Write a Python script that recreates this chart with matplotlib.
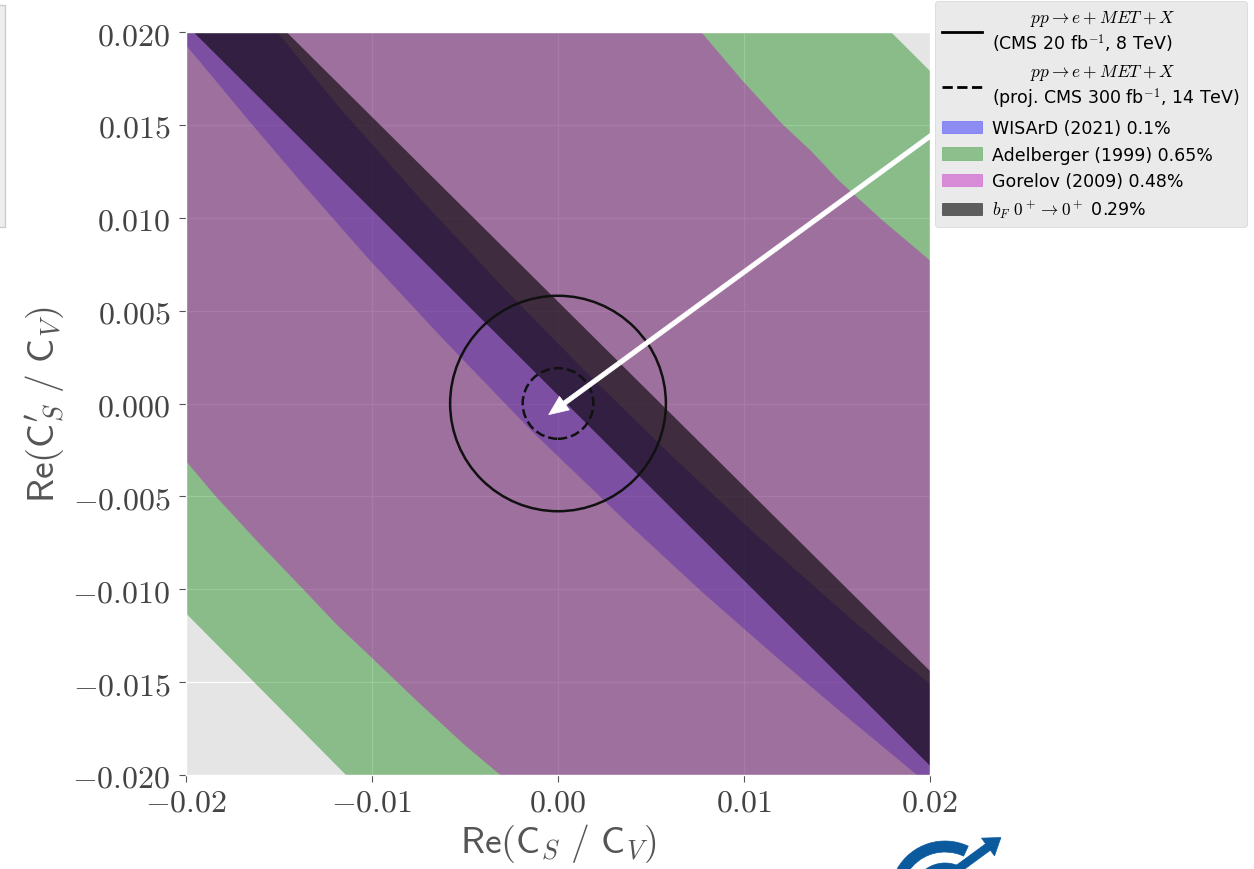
import matplotlib
matplotlib.use("Agg")
import matplotlib.pyplot as plt
from matplotlib.lines import Line2D
from matplotlib.patches import Patch, Circle, Rectangle, Wedge, FancyArrow
from matplotlib.ticker import FuncFormatter
from matplotlib.transforms import IdentityTransform

plt.style.use("ggplot")
plt.rcParams["font.family"] = ["DejaVu Sans"]
plt.rcParams["mathtext.fontset"] = "cm"

lim = 0.02

# Adelberger (1999): outer edges of the allowed region
adel_lo_x = [-0.0200, -0.0114]
adel_lo_y = [-0.0113, -0.0200]
adel_hi_x = [0.0179, 0.0200]
adel_hi_y = [0.0200, 0.0179]

# Gorelov (2009)
gor_lo_x = [-0.0200, -0.0184, -0.0160, -0.0137, -0.0119, -0.0100, -0.0076, -0.0050, -0.0031]
gor_lo_y = [-0.0031, -0.0050, -0.0076, -0.0100, -0.0119, -0.0137, -0.0160, -0.0184, -0.0200]
gor_hi_x = [0.0077, 0.0099, 0.0120, 0.0136, 0.0151, 0.0174, 0.0200]
gor_hi_y = [0.0200, 0.0174, 0.0151, 0.0136, 0.0120, 0.0099, 0.0077]

# WISArD (2021)
wis_lo_x = [-0.0200, -0.0166, -0.01375, -0.0102, -0.00635, -0.00145, 0.00365, 0.0078, 0.01185, 0.0152, 0.0193]
wis_lo_y = [0.0193, 0.0152, 0.01185, 0.0078, 0.00365, -0.00145, -0.00635, -0.0102, -0.01375, -0.0166, -0.0200]
wis_hi_x = [-0.0151, -0.0119, -0.0072, -0.00285, 0.0016, 0.00615, 0.0108, 0.0161, 0.0200]
wis_hi_y = [0.0200, 0.0161, 0.0108, 0.00615, 0.0016, -0.00285, -0.0072, -0.0119, -0.0151]

# b_F 0+ -> 0+
bf_lo_x = [-0.0196, 0.0200]
bf_lo_y = [0.0200, -0.0195]
bf_hi_x = [-0.0146, 0.0200]
bf_hi_y = [0.0200, -0.0144]

# CMS circles (8 TeV solid, 14 TeV projection dashed)
cms_r = [0.0058, 0.0019]
cms_ls = ["-", "--"]

arrow_tip = (-0.0005, -0.0006)
arrow_tail = (0.0207, 0.0149)

xticks = [-0.02, -0.01, 0.0, 0.01, 0.02]
yticks = [-0.020, -0.015, -0.010, -0.005, 0.0, 0.005, 0.010, 0.015, 0.020]

labels = [
    "       $pp \\rightarrow e + MET + X$\n(CMS 20 fb$^{-1}$, 8 TeV)",
    "       $pp \\rightarrow e + MET + X$\n(proj. CMS 300 fb$^{-1}$, 14 TeV)",
    "WISArD (2021) 0.1%",
    "Adelberger (1999) 0.65%",
    "Gorelov (2009) 0.48%",
    "$b_F\\ 0^+ \\rightarrow 0^+$ 0.29%",
]


def band(lo_x, lo_y, hi_x, hi_y, corners=True):
    xs = list(lo_x)
    ys = list(lo_y)
    if corners:
        xs.append(lim); ys.append(-lim)
    xs += hi_x[::-1]
    ys += hi_y[::-1]
    if corners:
        xs.append(-lim); ys.append(lim)
    return xs, ys


fig = plt.figure(figsize=(12.54, 8.70), dpi=100)
ax = fig.add_axes([186 / 1254, 94 / 870, 744 / 1254, 743 / 870])

xs, ys = band(wis_lo_x, wis_lo_y, wis_hi_x, wis_hi_y)
ax.fill(xs, ys, color="b", alpha=0.4, lw=0)
xs, ys = band(adel_lo_x, adel_lo_y, adel_hi_x, adel_hi_y)
ax.fill(xs, ys, color="g", alpha=0.4, lw=0)
xs, ys = band(gor_lo_x, gor_lo_y, gor_hi_x, gor_hi_y)
ax.fill(xs, ys, color="m", alpha=0.4, lw=0)
xs, ys = band(bf_lo_x, bf_lo_y, bf_hi_x, bf_hi_y, corners=False)
ax.fill(xs, ys, color="k", alpha=0.6, lw=0)

for r, ls in zip(cms_r, cms_ls):
    ax.add_patch(Circle((0, 0), r, fill=False, ec="#111111", lw=1.8, ls=ls, zorder=4))

ax.set_xlim(-lim, lim)
ax.set_ylim(-lim, lim)
ax.set_xticks(xticks)
ax.set_yticks(yticks)
ax.xaxis.set_major_formatter(FuncFormatter(lambda v, p: f"${v:.2f}$"))
ax.yaxis.set_major_formatter(FuncFormatter(lambda v, p: f"${v:.3f}$"))
ax.tick_params(labelsize=23, labelcolor="#444444", length=5)
ax.tick_params(axis="y", pad=6)
ax.set_xlabel(r"$\mathsf{Re}\left(\mathsf{C}_S\ /\ \mathsf{C}_V\right)$", fontsize=27, color="#555555", labelpad=2)
ax.set_ylabel(r"$\mathsf{Re}\left(\mathsf{C}_S^{\prime}\ /\ \mathsf{C}_V\right)$", fontsize=27, color="#555555", labelpad=4)

handles = [
    Line2D([], [], color="k", lw=2),
    Line2D([], [], color="k", lw=2, ls="--"),
    Patch(color="b", alpha=0.4),
    Patch(color="g", alpha=0.4),
    Patch(color="m", alpha=0.4),
    Patch(color="k", alpha=0.6),
]
leg = fig.legend(handles, labels, loc="upper left", bbox_to_anchor=(935 / 1254, 1 - 2 / 870),
                 fontsize=12.5, frameon=True, borderaxespad=0, handlelength=2.3,
                 handletextpad=0.6, labelspacing=0.5, borderpad=0.4)
leg.get_frame().set_edgecolor("#cccccc")

ax.annotate("", xy=arrow_tip, xytext=arrow_tail, annotation_clip=False, zorder=10,
            arrowprops=dict(facecolor="white", edgecolor="white", width=3.2, headwidth=12, headlength=14))

# stray box at the top left edge
fig.patches.append(Rectangle((-0.05, 1 - 228 / 870), 0.054, 222 / 870, transform=fig.transFigure,
                             fc="#eeeeee", ec="#cccccc", lw=1))

# partial logo at the bottom
logo = "#0b5a9e"
fig.patches.append(Wedge((945, -27), 55, 65, 150, width=11, transform=IdentityTransform(), color=logo))
fig.patches.append(Wedge((945, -27), 33, 40, 150, width=9, transform=IdentityTransform(), color=logo))
fig.patches.append(FancyArrow(958, 0, 30, 22, width=8, head_width=22, head_length=16,
                              transform=IdentityTransform(), color=logo))

fig.savefig("out.png", dpi=100, facecolor="white")
